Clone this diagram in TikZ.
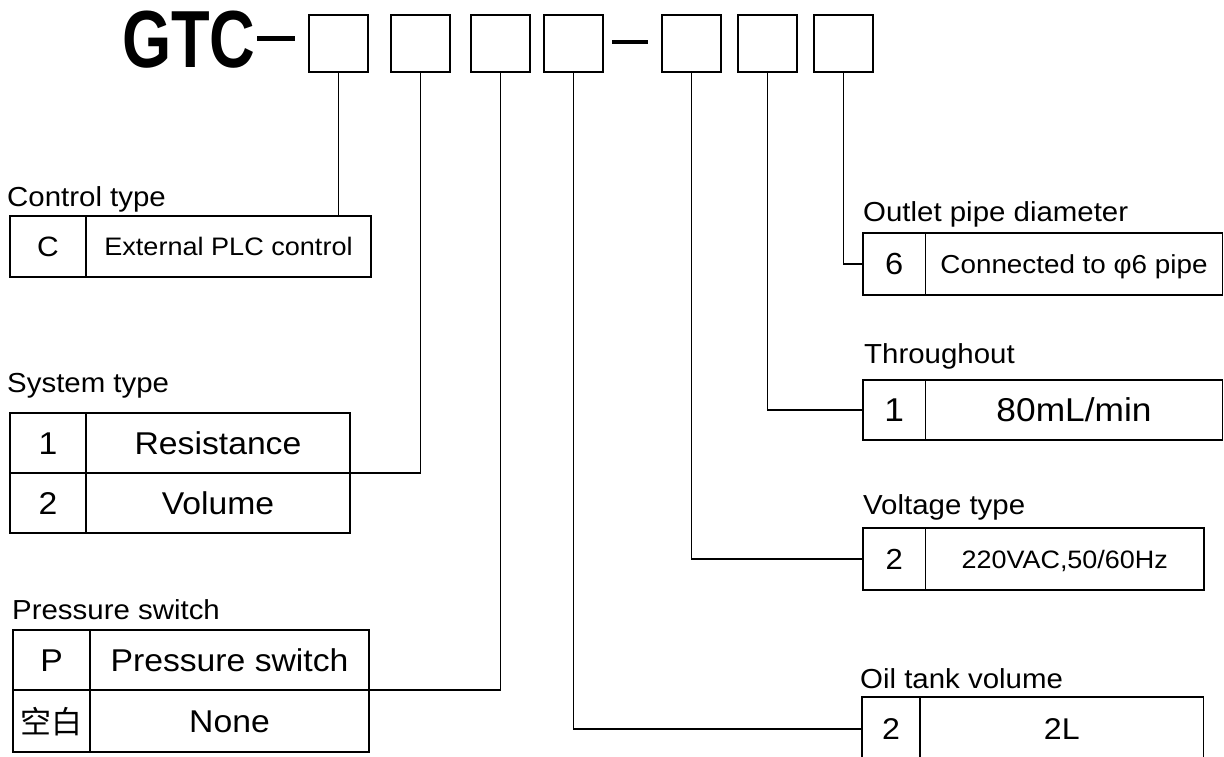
\documentclass[tikz,border=0pt]{standalone}
\usepackage{fontspec}
\setmainfont{Liberation Sans}[FakeStretch=1.07]
\newfontfamily\gtcfont{Liberation Sans}[FakeStretch=0.78]
\newfontfamily\cjkfont{Noto Sans CJK SC}
\tikzstyle{codebox}=[draw,line width=1.8pt,outer sep=0,inner sep=0,minimum width=59pt,minimum height=57pt,anchor=north west]
\tikzstyle{tabcell}=[draw,line width=1.8pt,outer sep=0,inner sep=0,anchor=north west]
\tikzstyle{lbl}=[inner sep=0,anchor=base west,font=\fontsize{27.5}{30}\selectfont]
\tikzstyle{wire}=[line width=1.6pt]
\tikzstyle{sepbar}=[line width=5pt]
\tikzset{sz/.style 2 args={font=\fontsize{#1}{#1}\selectfont,text height=#2pt,text depth=0pt}}

\begin{document}
\begin{tikzpicture}[x=1pt,y=-1pt]%[scale=.5]
\useasboundingbox (0,0) rectangle (1224,757);
% model code
\node[inner sep=0,anchor=base west,font=\gtcfont\bfseries\fontsize{81}{81}\selectfont] (gtc) at (122,68) {GTC};
\draw[sepbar] (257,39)--(295,39);
\node[codebox] (b1) at (309,15) {};
\node[codebox] (b2) at (391,15) {};
\node[codebox] (b3) at (471,15) {};
\node[codebox] (b4) at (544,15) {};
\draw[sepbar,line width=3.5pt] (612,42)--(648,42);
\node[codebox] (b5) at (662,15) {};
\node[codebox] (b6) at (738,15) {};
\node[codebox] (b7) at (814,15) {};

% left tables
\node[lbl] (ctlT) at (7,206) {Control type};
\node[tabcell,sz={28}{20},minimum width=76pt,minimum height=61pt] (ctlK) at (10,216) {C};
\node[tabcell,sz={25.3}{18.1},minimum width=285pt,minimum height=61pt] (ctlV) at (ctlK.north east) {External PLC control};

\node[lbl] (sysT) at (7,392) {System type};
\node[tabcell,sz={31.5}{22.5},minimum width=76pt,minimum height=60pt] (sys1K) at (10,413) {1};
\node[tabcell,sz={31.5}{22.5},minimum width=264pt,minimum height=60pt] (sys1V) at (sys1K.north east) {Resistance};
\node[tabcell,sz={31.5}{22.5},minimum width=76pt,minimum height=60pt] (sys2K) at (sys1K.south west) {2};
\node[tabcell,sz={31.5}{22.5},minimum width=264pt,minimum height=60pt] (sys2V) at (sys2K.north east) {Volume};

\node[lbl] (preT) at (12,619) {Pressure switch};
\node[tabcell,sz={31.5}{22.5},minimum width=77pt,minimum height=60pt] (pre1K) at (13,630) {P};
\node[tabcell,sz={31.5}{22.5},minimum width=279pt,minimum height=60pt] (pre1V) at (pre1K.north east) {Pressure switch};
\node[tabcell,sz={31}{24},font=\cjkfont\fontsize{31}{31}\selectfont,minimum width=77pt,minimum height=62pt] (pre2K) at (pre1K.south west) {空白};
\node[tabcell,sz={31.5}{22.5},minimum width=279pt,minimum height=62pt] (pre2V) at (pre2K.north east) {None};

% right tables
\node[lbl] (outT) at (863,222) {Outlet pipe diameter};
\node[tabcell,sz={30.5}{21.8},minimum width=62.5pt,minimum height=62pt] (outK) at (863,233) {6};
\node[tabcell,sz={26}{18.6},minimum width=297pt,minimum height=62pt] (outV) at (outK.north east) {Connected to φ6 pipe};

\node[lbl] (thrT) at (864,363) {Throughout};
\node[tabcell,sz={33}{23.6},minimum width=62.5pt,minimum height=60pt] (thrK) at (863,380) {1};
\node[tabcell,sz={33}{23.6},minimum width=297pt,minimum height=60pt] (thrV) at (thrK.north east) {80mL/min};

\node[lbl] (volT) at (863,514) {Voltage type};
\node[tabcell,sz={29}{20.8},minimum width=62.5pt,minimum height=62pt] (volK) at (863,528) {2};
\node[tabcell,sz={25.2}{18},minimum width=278.5pt,minimum height=62pt] (volV) at (volK.north east) {220VAC,50/60Hz};

\node[lbl] (oilT) at (860,688) {Oil tank volume};
\node[tabcell,sz={30}{21.5},minimum width=58pt,minimum height=64pt] (oilK) at (862,697) {2};
\node[tabcell,sz={30}{21.5},minimum width=283.5pt,minimum height=64pt] (oilV) at (oilK.north east) {2L};

% leaders
\draw[wire] (b1.south) -- (b1.south |- ctlV.north);
\draw[wire] (b2.south) |- (sys1V.south east);
\draw[wire] (b3.south) |- (pre1V.south east);
\draw[wire] (b4.south) |- (oilK.west);
\draw[wire] (b5.south) |- (volK.west);
\draw[wire] (b6.south) |- (thrK.west);
\draw[wire] (b7.south) |- (outK.west);
\end{tikzpicture}
\end{document}
